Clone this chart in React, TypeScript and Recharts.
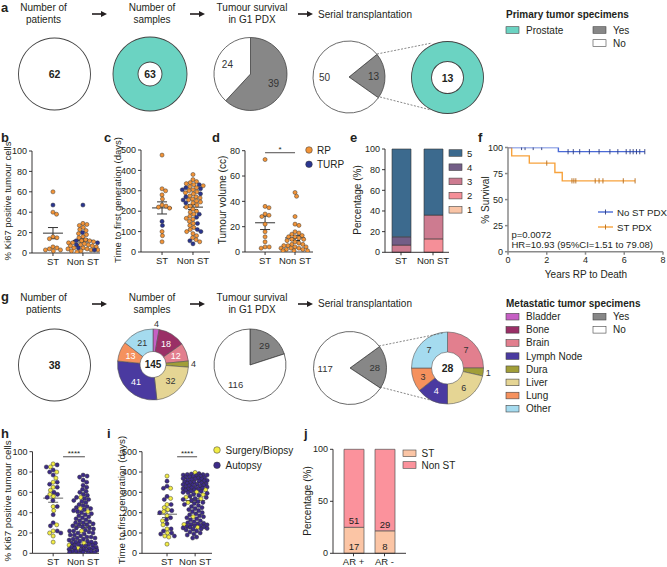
import React from 'react'
import {
  ScatterChart,
  Scatter,
  XAxis,
  YAxis,
  ReferenceLine,
  BarChart,
  Bar,
  LabelList,
  PieChart,
  Pie,
  Cell,
  ComposedChart,
  Line,
} from 'recharts'

const FONT = '"Liberation Sans", Arial, Helvetica, sans-serif'
const INK = '#231f20'
const TEAL = '#6bd3c2'
const GREY = '#878787'
const ORANGE = '#f29438'
const NAVY = '#2a3590'
const YELLOW = '#f2ec45'
const PURPLE = '#3d2b88'
const KM_BLUE = '#4a6ad6'
const KM_ORANGE = '#f7a23c'

// ---- a: primary tumour specimens
const primaryPatients = 62
const primarySamples = 63
const primaryG1 = [39, 24] // yes, no
const primarySerial = [13, 50] // yes, no

// ---- g: metastatic tumour specimens
const metPatients = 38
const sampleSites = ['Bladder', 'Bone', 'Brain', 'Dura', 'Liver', 'Lymph Node', 'Lung', 'Other']
const sampleCounts = [4, 18, 12, 4, 32, 41, 13, 21]
const metG1 = [29, 116]
const metSerial = [28, 117]
const serialSites = ['Brain', 'Dura', 'Liver', 'Lymph Node', 'Lung', 'Other']
const serialCounts = [7, 1, 6, 4, 3, 7]
const legendSites = ['Bladder', 'Bone', 'Brain', 'Lymph Node', 'Dura', 'Liver', 'Lung', 'Other']
const siteColors: Record<string, string> = {
  Bladder: '#c65fc4',
  Bone: '#9a2f66',
  Brain: '#e27f8e',
  'Lymph Node': '#4a3aa0',
  Dura: '#a19e38',
  Liver: '#e5d594',
  Lung: '#f5915d',
  Other: '#a5dbef',
}

const stLabels = ['ST', 'Non ST']

// ---- b: Ki67 (primary)
const kiStRP = [60, 40, 38, 16, 15, 14, 6, 5, 4, 3, 3, 2]
const kiStTURP = [47]
const kiNonRP = [29, 28, 27, 25, 23, 22, 19, 18, 16, 15, 13, 12, 12, 11, 10, 10, 9, 8, 8, 7, 7, 6, 5, 5, 4, 4, 3, 3, 2, 2, 1]
const kiNonTURP = [47, 20, 12, 10, 8, 5, 3]

// ---- c: time to first generation (primary)
const tfgStRP = [475, 310, 300, 280, 260, 230, 225, 220, 215, 100, 80, 50]
const tfgStTURP = [150, 130]
const tfgNonRP = [380, 355, 345, 340, 335, 330, 325, 320, 315, 305, 300, 295, 290, 285, 275, 270, 265, 260, 255, 250, 245, 240, 230, 225, 220, 210, 200, 195, 185, 175, 165, 160, 150, 140, 130, 120, 110, 100, 90, 80, 70, 60, 50]
const tfgNonTURP = [330, 315, 310, 305, 285, 270, 255, 240, 185, 170, 140, 110, 100, 55, 40]

// ---- d: tumour volume
const volStRP = [73, 36, 35, 30, 29, 28, 22, 16, 12, 8, 4, 4, 3]
const volNonRP = [47, 44, 28, 22, 21, 16, 15, 14, 13, 12, 12, 11, 10, 10, 9, 8, 7, 6, 6, 5, 5, 4, 4, 3, 3, 3, 2, 2, 1, 1, 1]

// ---- e: grade group
const gradeLegend = ['5', '4', '3', '2', '1']
const gradeColors = ['#f9c4a6', '#f58f98', '#cd7b90', '#735e87', '#3c6a8e'] // 1..5
const grade1 = [0, 0]
const grade2 = [0, 13]
const grade3 = [7, 23]
const grade4 = [8, 0]
const grade5 = [85, 64]

// ---- f: survival
const noStTimes = [0, 2.6, 7.06]
const noStSurv = [100, 96, 96]
const noStCensored = [0.7, 0.88, 1.3, 1.74, 3.1, 3.37, 3.7, 4.2, 4.7, 5.26, 5.67, 6.1, 6.3, 6.46, 6.63, 6.8, 7.06]
const stTimes = [0, 0.19, 1.1, 2.42, 2.8, 6.56]
const stSurv = [100, 92, 85, 76, 68, 68]
const stCensored = [2.0, 3.3, 3.4, 3.5, 4.5, 4.7, 4.9, 5.95, 6.56]

// ---- h: Ki67 (metastatic)
const hStSurgery = [88, 85, 80, 74, 70, 65, 62, 58, 56, 46, 42, 28, 22, 20, 17, 11]
const hStAutopsy = [87, 85, 82, 80, 77, 70, 68, 65, 60, 58, 55, 52, 46, 38, 30, 27, 22, 20]
const hNonSurgery = [55, 44, 41, 22, 10, 8, 5]
const hNonAutopsy = [77, 76, 75, 72, 70, 67, 65, 63, 61, 60, 58, 57, 55, 54, 53, 52, 51, 50, 48, 47, 46, 45, 44, 43, 42, 41, 40, 39, 38, 37, 36, 35, 34, 33, 32, 31, 30, 30, 29, 28, 28, 27, 26, 25, 25, 24, 23, 22, 22, 21, 20, 20, 19, 18, 18, 17, 16, 16, 15, 15, 14, 14, 13, 12, 12, 11, 11, 10, 10, 9, 9, 8, 8, 7, 7, 6, 6, 5, 5, 5, 4, 4, 3, 3, 3, 2, 2, 2, 1, 1, 1, 0, 0]

// ---- i: time to first generation (metastatic)
const iStSurgery = [380, 320, 270, 240, 225, 215, 205, 185, 160, 140, 120, 100, 85, 80, 45]
const iStAutopsy = [355, 330, 320, 280, 265, 240, 210, 200, 175, 165, 145, 120, 110, 100, 95, 85]
const iNonSurgery = [398, 312, 302, 288, 276, 268, 250, 180, 142, 128]
const iNonAutopsy = [392, 390, 388, 387, 385, 385, 382, 380, 378, 376, 375, 372, 370, 368, 366, 365, 362, 360, 358, 356, 355, 352, 350, 348, 346, 345, 342, 340, 338, 336, 335, 332, 330, 328, 326, 325, 322, 320, 318, 316, 315, 312, 310, 306, 305, 300, 298, 295, 290, 285, 280, 275, 270, 265, 260, 255, 250, 245, 240, 235, 230, 225, 220, 215, 210, 205, 200, 195, 190, 185, 180, 175, 170, 165, 160, 155, 150, 148, 145, 142, 140, 138, 135, 132, 130, 128, 125, 122, 120, 118, 115, 110, 105, 100, 95, 90, 80, 75]

// ---- j: AR status
const arGroups = ['AR +', 'AR -']
const arSt = [17, 8]
const arNonSt = [51, 29]

type Group = { vals: number[]; fill: string }
type Rect = [number, number, number, number]

const tickStyle = { fill: INK, fontSize: 9, fontFamily: FONT }
const axisStyle = { stroke: INK, strokeWidth: 0.9 }

function frame(box: Rect, plot: Rect, xH: number) {
  const [l, t, w, h] = box
  const [x0, y0, x1, y1] = plot
  return {
    margin: { top: y0 - t, right: l + w - x1, bottom: t + h - y1 - xH, left: 0 },
    yW: x0 - l,
  }
}

// beeswarm kept inside a fixed half-width; dense spots overlap a little
function swarm(groups: Group[], pos: number, kx: number, ky: number, d: number, maxHalf: number) {
  const pts = groups.flatMap((g) => g.vals.map((v) => ({ v, fill: g.fill })))
  pts.sort((a, b) => b.v - a.v)
  const placed: { px: number; py: number }[] = []
  return pts.map((p) => {
    const py = p.v * ky
    const near = placed.filter((q) => Math.abs(q.py - py) < d)
    const cands = [0]
    for (const q of near) {
      const dx = Math.sqrt(d * d - (q.py - py) ** 2)
      cands.push(q.px + dx, q.px - dx)
    }
    const ok = cands.filter((c) => Math.abs(c) <= maxHalf).sort((a, b) => Math.abs(a) - Math.abs(b))
    let px = ok.find((c) => near.every((q) => (q.px - c) ** 2 + (q.py - py) ** 2 >= d * d - 0.01))
    if (px === undefined) {
      let best = 0
      let bestD = -1
      for (let c = -maxHalf; c <= maxHalf; c += 0.5) {
        const md = Math.min(...near.map((q) => (q.px - c) ** 2 + (q.py - py) ** 2))
        if (md > bestD) {
          bestD = md
          best = c
        }
      }
      px = best
    }
    placed.push({ px, py })
    return { x: pos + px / kx, y: p.v, fill: p.fill }
  })
}

const dotShape = (p: any) => (
  <circle cx={p.cx} cy={p.cy} r={2.05} fill={p.payload.fill} stroke="#2a2a2a" strokeWidth={0.45} />
)

function DotPlot({
  box,
  plot,
  yMax,
  yTicks,
  xDomain,
  cols,
  xH,
  sig,
  halfWidth = [10, 13],
  meanColor = '#333',
}: {
  box: Rect
  plot: Rect
  yMax: number
  yTicks: number[]
  xDomain: [number, number]
  cols: Group[][]
  xH: number
  sig?: { x: [number, number]; y: number; text: string }
  halfWidth?: number[]
  meanColor?: string
}) {
  const { margin, yW } = frame(box, plot, xH)
  const kx = (plot[2] - plot[0]) / (xDomain[1] - xDomain[0])
  const ky = (plot[3] - plot[1]) / yMax
  const dots = cols.flatMap((g, i) => swarm(g, i + 1, kx, ky, 4.1, halfWidth[i]))
  const stats = cols.map((g) => {
    const v = g.flatMap((s) => s.vals)
    const m = v.reduce((a, b) => a + b, 0) / v.length
    const sd = Math.sqrt(v.reduce((a, b) => a + (b - m) ** 2, 0) / (v.length - 1))
    return { m, se: sd / Math.sqrt(v.length) }
  })
  const half = 10 / kx
  const cap = 5 / kx
  return (
    <div style={{ position: 'absolute', left: box[0], top: box[1] }}>
      <ScatterChart width={box[2]} height={box[3]} margin={margin}>
        <XAxis
          type="number"
          dataKey="x"
          domain={xDomain}
          ticks={[1, 2]}
          interval={0}
          allowDataOverflow
          tickFormatter={(v: number) => stLabels[Math.round(v) - 1]}
          height={xH}
          tick={{ ...tickStyle, fontSize: 9.5 }}
          tickSize={3}
          axisLine={axisStyle}
          tickLine={axisStyle}
        />
        <YAxis
          type="number"
          dataKey="y"
          domain={[0, yMax]}
          ticks={yTicks}
          interval={0}
          allowDataOverflow
          width={yW}
          tick={tickStyle}
          tickSize={3}
          axisLine={axisStyle}
          tickLine={axisStyle}
        />
        <Scatter data={dots} isAnimationActive={false} shape={dotShape} />
        {stats.flatMap((s, i) => [
          <ReferenceLine
            key={'m' + i}
            segment={[{ x: i + 1 - half, y: s.m }, { x: i + 1 + half, y: s.m }]}
            stroke={meanColor}
            strokeWidth={1}
          />,
          <ReferenceLine
            key={'e' + i}
            segment={[{ x: i + 1, y: s.m - s.se }, { x: i + 1, y: s.m + s.se }]}
            stroke={meanColor}
            strokeWidth={1}
          />,
          <ReferenceLine
            key={'t' + i}
            segment={[{ x: i + 1 - cap, y: s.m + s.se }, { x: i + 1 + cap, y: s.m + s.se }]}
            stroke={meanColor}
            strokeWidth={1}
          />,
          <ReferenceLine
            key={'b' + i}
            segment={[{ x: i + 1 - cap, y: s.m - s.se }, { x: i + 1 + cap, y: s.m - s.se }]}
            stroke={meanColor}
            strokeWidth={1}
          />,
        ])}
        {sig && (
          <ReferenceLine
            segment={[{ x: sig.x[0], y: sig.y }, { x: sig.x[1], y: sig.y }]}
            stroke={INK}
            strokeWidth={0.8}
            label={{ value: sig.text, position: 'top', fontSize: 8, fill: INK, offset: 1 }}
          />
        )}
      </ScatterChart>
    </div>
  )
}

// pie helpers
const solid = (key: string, cx: number, cy: number, inner: number, outer: number, fill: string) => (
  <Pie
    key={key}
    data={[{ v: 1 }]}
    dataKey="v"
    cx={cx}
    cy={cy}
    innerRadius={inner}
    outerRadius={outer}
    startAngle={90}
    endAngle={-270}
    fill={fill}
    stroke="none"
    isAnimationActive={false}
  />
)
const ring = (key: string, cx: number, cy: number, r: number) =>
  solid(key, cx, cy, r - 0.45, r + 0.45, '#444')

const yesNo = (arr: number[]) => [
  { name: 'Yes', v: arr[0] },
  { name: 'No', v: arr[1] },
]
const sites = (names: string[], counts: number[]) => names.map((name, i) => ({ name, v: counts[i] }))

function pieLabel(light: string[], outsideMax: number, size: number) {
  return (p: any) => {
    const RAD = Math.PI / 180
    const name = p.payload?.name ?? p.name
    const outside = p.value <= outsideMax
    const r = outside
      ? p.outerRadius + 5
      : p.innerRadius > 0
        ? (p.innerRadius + p.outerRadius) / 2
        : p.outerRadius * 0.68
    const x = p.cx + r * Math.cos(-p.midAngle * RAD)
    const y = p.cy + r * Math.sin(-p.midAngle * RAD)
    return (
      <text
        x={x}
        y={y}
        textAnchor="middle"
        dominantBaseline="central"
        fontSize={size}
        fontFamily={FONT}
        fill={light.includes(name) && !outside ? '#fff' : '#333'}
      >
        {p.value}
      </text>
    )
  }
}

function PieRows() {
  const yn = [GREY, '#fff']
  return (
    <>
      <div style={{ position: 'absolute', left: 0, top: 30 }}>
        <PieChart width={500} height={95} margin={{ top: 0, right: 0, bottom: 0, left: 0 }}>
          {solid('a1', 54.5, 44, 0, 36, '#fff')}
          {ring('a1o', 54.5, 44, 36)}
          {solid('a2', 150, 44, 12, 37, TEAL)}
          {ring('a2o', 150, 44, 37)}
          {ring('a2i', 150, 44, 12)}
          <Pie
            data={yesNo(primaryG1)}
            dataKey="v"
            nameKey="name"
            cx={250.5}
            cy={44}
            outerRadius={36.5}
            startAngle={90}
            endAngle={-270}
            stroke="#444"
            strokeWidth={0.8}
            label={pieLabel([], 0, 10)}
            labelLine={false}
            isAnimationActive={false}
          >
            {yn.map((c, i) => (
              <Cell key={i} fill={c} />
            ))}
          </Pie>
          <Pie
            data={yesNo(primarySerial)}
            dataKey="v"
            nameKey="name"
            cx={349}
            cy={47}
            outerRadius={36}
            startAngle={39}
            endAngle={-321}
            stroke="#444"
            strokeWidth={0.8}
            label={pieLabel([], 0, 10)}
            labelLine={false}
            isAnimationActive={false}
          >
            {yn.map((c, i) => (
              <Cell key={i} fill={c} />
            ))}
          </Pie>
          {solid('a5', 447.5, 47.5, 16, 36, TEAL)}
          {ring('a5o', 447.5, 47.5, 36)}
          {ring('a5i', 447.5, 47.5, 16)}
        </PieChart>
      </div>
      <div style={{ position: 'absolute', left: 0, top: 312 }}>
        <PieChart width={500} height={100} margin={{ top: 0, right: 0, bottom: 0, left: 0 }}>
          {solid('g1', 54.5, 53, 0, 36, '#fff')}
          {ring('g1o', 54.5, 53, 36)}
          <Pie
            data={sites(sampleSites, sampleCounts)}
            dataKey="v"
            nameKey="name"
            cx={153}
            cy={52.5}
            innerRadius={13}
            outerRadius={35.5}
            startAngle={90}
            endAngle={-270}
            stroke="#555"
            strokeWidth={0.6}
            label={pieLabel(['Bone', 'Brain', 'Lymph Node', 'Lung'], 4, 9)}
            labelLine={false}
            isAnimationActive={false}
          >
            {sampleSites.map((s) => (
              <Cell key={s} fill={siteColors[s]} />
            ))}
          </Pie>
          <Pie
            data={yesNo(metG1)}
            dataKey="v"
            nameKey="name"
            cx={250}
            cy={53}
            outerRadius={36}
            startAngle={90}
            endAngle={-270}
            stroke="#444"
            strokeWidth={0.8}
            label={pieLabel([], 0, 9.5)}
            labelLine={false}
            isAnimationActive={false}
          >
            {yn.map((c, i) => (
              <Cell key={i} fill={c} />
            ))}
          </Pie>
          <Pie
            data={yesNo(metSerial)}
            dataKey="v"
            nameKey="name"
            cx={350}
            cy={56}
            outerRadius={36.5}
            startAngle={36}
            endAngle={-324}
            stroke="#444"
            strokeWidth={0.8}
            label={pieLabel([], 0, 9.5)}
            labelLine={false}
            isAnimationActive={false}
          >
            {yn.map((c, i) => (
              <Cell key={i} fill={c} />
            ))}
          </Pie>
          <Pie
            data={sites(serialSites, serialCounts)}
            dataKey="v"
            nameKey="name"
            cx={447.5}
            cy={56}
            innerRadius={16}
            outerRadius={36}
            startAngle={90}
            endAngle={-270}
            stroke="#555"
            strokeWidth={0.6}
            label={pieLabel(['Lymph Node'], 1, 9)}
            labelLine={false}
            isAnimationActive={false}
          >
            {serialSites.map((s) => (
              <Cell key={s} fill={siteColors[s]} />
            ))}
          </Pie>
        </PieChart>
      </div>
    </>
  )
}

function GradeBars() {
  const box: Rect = [340, 138, 115, 140]
  const { margin, yW } = frame(box, [385, 149, 449, 252.3], 16)
  const data = stLabels.map((name, i) => ({
    name,
    g1: grade1[i],
    g2: grade2[i],
    g3: grade3[i],
    g4: grade4[i],
    g5: grade5[i],
  }))
  return (
    <div style={{ position: 'absolute', left: box[0], top: box[1] }}>
      <BarChart width={box[2]} height={box[3]} data={data} margin={margin} barSize={19}>
        <XAxis dataKey="name" height={16} tick={{ ...tickStyle, fontSize: 9.5 }} tickSize={3} axisLine={axisStyle} tickLine={axisStyle} interval={0} />
        <YAxis domain={[0, 100]} ticks={[0, 20, 40, 60, 80, 100]} interval={0} width={yW} tick={tickStyle} tickSize={3} axisLine={axisStyle} tickLine={axisStyle} />
        {['g1', 'g2', 'g3', 'g4', 'g5'].map((k, i) => (
          <Bar key={k} dataKey={k} stackId="s" fill={gradeColors[i]} stroke="#333" strokeWidth={0.6} isAnimationActive={false} />
        ))}
      </BarChart>
    </div>
  )
}

function levelAt(times: number[], surv: number[], t: number) {
  let s = surv[0]
  times.forEach((tt, i) => {
    if (tt <= t) s = surv[i]
  })
  return s
}

const censorShape = (color: string) => (p: any) => (
  <line x1={p.cx} x2={p.cx} y1={p.cy - 2.6} y2={p.cy + 2.6} stroke={color} strokeWidth={0.9} />
)

function Survival() {
  const box: Rect = [470, 138, 197, 140]
  const { margin, yW } = frame(box, [508, 147.5, 663, 251.7], 16)
  const gAxis = { stroke: '#8a8a8a', strokeWidth: 1.5 }
  const noSt = noStTimes.map((t, i) => ({ t, s: noStSurv[i] }))
  const st = stTimes.map((t, i) => ({ t, s: stSurv[i] }))
  const noStTicks = noStCensored.map((t) => ({ t, s: levelAt(noStTimes, noStSurv, t) }))
  const stTicks = stCensored.map((t) => ({ t, s: levelAt(stTimes, stSurv, t) }))
  return (
    <div style={{ position: 'absolute', left: box[0], top: box[1] }}>
      <ComposedChart width={box[2]} height={box[3]} margin={margin}>
        <XAxis type="number" dataKey="t" domain={[0, 8]} ticks={[0, 2, 4, 6, 8]} interval={0} allowDataOverflow height={16} tick={tickStyle} tickSize={3} axisLine={gAxis} tickLine={gAxis} />
        <YAxis type="number" dataKey="s" domain={[0, 100]} ticks={[0, 25, 50, 75, 100]} interval={0} allowDataOverflow width={yW} tick={tickStyle} tickSize={3} axisLine={gAxis} tickLine={gAxis} />
        <Line data={st} dataKey="s" type="stepAfter" stroke={KM_ORANGE} strokeWidth={1.4} dot={false} isAnimationActive={false} />
        <Line data={noSt} dataKey="s" type="stepAfter" stroke={KM_BLUE} strokeWidth={1.4} dot={false} isAnimationActive={false} />
        <Scatter data={stTicks} dataKey="s" shape={censorShape('#b36a1a')} isAnimationActive={false} />
        <Scatter data={noStTicks} dataKey="s" shape={censorShape('#2b3a7a')} isAnimationActive={false} />
      </ComposedChart>
    </div>
  )
}

function ArBars() {
  const box: Rect = [300, 430, 120, 138]
  const { margin, yW } = frame(box, [333, 449.3, 406, 553.3], 14)
  const data = arGroups.map((name, i) => {
    const n = arSt[i] + arNonSt[i]
    return { name, st: (arSt[i] / n) * 100, nonSt: (arNonSt[i] / n) * 100, stN: arSt[i], nonStN: arNonSt[i] }
  })
  const lbl = { fontSize: 9.5, fill: INK, fontFamily: FONT }
  return (
    <div style={{ position: 'absolute', left: box[0], top: box[1] }}>
      <BarChart width={box[2]} height={box[3]} data={data} margin={margin} barSize={20}>
        <XAxis dataKey="name" height={14} padding={{ left: 5, right: 6 }} tick={{ ...tickStyle, fontSize: 9.5 }} tickSize={3} axisLine={axisStyle} tickLine={axisStyle} interval={0} />
        <YAxis domain={[0, 100]} ticks={[0, 50, 100]} interval={0} width={yW} tick={tickStyle} tickSize={3} axisLine={axisStyle} tickLine={axisStyle} />
        <Bar dataKey="st" stackId="a" fill="#fbc5a5" stroke="#555" strokeWidth={0.7} isAnimationActive={false}>
          <LabelList dataKey="stN" position="insideBottom" offset={3} style={lbl} />
        </Bar>
        <Bar dataKey="nonSt" stackId="a" fill="#fb929c" stroke="#555" strokeWidth={0.7} isAnimationActive={false}>
          <LabelList dataKey="nonStN" position="insideBottom" offset={3} style={lbl} />
        </Bar>
      </BarChart>
    </div>
  )
}

function Overlay() {
  const txt = (x: number, y: number, s: string | number, extra: any = {}) => (
    <text x={x} y={y} fontSize={10} fill={INK} fontFamily={FONT} {...extra}>
      {s}
    </text>
  )
  const vLabel = (x: number, y: number, s: string, size = 10) => (
    <text transform={`translate(${x},${y}) rotate(-90)`} textAnchor="middle" dy="0.35em" fontSize={size} fill={INK} fontFamily={FONT}>
      {s}
    </text>
  )
  const arrow = (x: number, y: number) => (
    <g key={`${x}-${y}`}>
      <line x1={x} y1={y} x2={x + 10} y2={y} stroke={INK} strokeWidth={1.6} />
      <polygon points={`${x + 9},${y - 3} ${x + 15},${y} ${x + 9},${y + 3}`} fill={INK} />
    </g>
  )
  const swatch = (x: number, cy: number, fill: string) => (
    <rect x={x} y={cy - 3.3} width={13} height={6.6} fill={fill} stroke="#444" strokeWidth={0.6} />
  )
  const heads = [
    { x: 43.5, a: 'Number of', b: 'patients' },
    { x: 152, a: 'Number of', b: 'samples' },
    { x: 252, a: 'Tumour survival', b: 'in G1 PDX' },
  ]
  const flowHeader = (y1: number, y2: number, ya: number, ys: number) => (
    <g>
      {heads.map((h) => (
        <g key={h.x}>
          {txt(h.x, y1, h.a, { textAnchor: 'middle' })}
          {txt(h.x, y2, h.b, { textAnchor: 'middle' })}
        </g>
      ))}
      {[92, 190, 298].map((x) => arrow(x, ya))}
      {txt(318, ys, 'Serial transplantation')}
    </g>
  )
  const letter = (x: number, y: number, s: string) => txt(x, y, s, { fontSize: 13, fontWeight: 700 })
  const bold = { textAnchor: 'middle', dominantBaseline: 'central', fontWeight: 700, fontSize: 10.5 }
  const dash = { stroke: '#555', strokeWidth: 0.7, strokeDasharray: '2 1.5' }
  const sum = (a: number[]) => a.reduce((x, y) => x + y, 0)
  return (
    <svg width={667} height={567} style={{ position: 'absolute', left: 0, top: 0, pointerEvents: 'none' }}>
      {letter(1, 11.5, 'a')}
      {letter(1, 142, 'b')}
      {letter(104, 142, 'c')}
      {letter(212, 142, 'd')}
      {letter(350, 142, 'e')}
      {letter(478, 142, 'f')}
      {letter(1, 301, 'g')}
      {letter(1, 438, 'h')}
      {letter(107, 438, 'i')}
      {letter(304, 438, 'j')}

      {flowHeader(11, 23, 14, 17.5)}
      {flowHeader(301, 313, 304, 307)}

      {/* centre numbers */}
      {txt(54.5, 74, primaryPatients, bold)}
      {txt(150, 74, primarySamples, bold)}
      {txt(447.5, 77.5, primarySerial[0], bold)}
      {txt(54.5, 365, metPatients, bold)}
      {txt(153, 364.5, sum(sampleCounts), { ...bold, fontSize: 10 })}
      {txt(447.5, 368, sum(serialCounts), bold)}

      {/* zoom connectors */}
      <line x1={377} y1={54} x2={432} y2={43} {...dash} />
      <line x1={380} y1={97} x2={431} y2={110} {...dash} />
      <line x1={379} y1={346} x2={443} y2={333} {...dash} />
      <line x1={380} y1={387} x2={430} y2={400} {...dash} />

      {/* legend a */}
      {txt(506, 17.5, 'Primary tumor specimens', { fontWeight: 700 })}
      {swatch(506, 30, TEAL)}
      {txt(526, 33.5, 'Prostate')}
      {swatch(593, 30, GREY)}
      {txt(613, 33.5, 'Yes')}
      {swatch(593, 43, '#fff')}
      {txt(613, 46.5, 'No')}

      {/* legend g */}
      {txt(506, 306.5, 'Metastatic tumor specimens', { fontWeight: 700 })}
      {legendSites.map((s, i) => (
        <g key={s}>
          {swatch(506, 316.7 + i * 13.14, siteColors[s])}
          {txt(526, 320.2 + i * 13.14, s)}
        </g>
      ))}
      {swatch(593, 316.7, GREY)}
      {txt(613, 320.2, 'Yes')}
      {swatch(593, 329.8, '#fff')}
      {txt(613, 333.3, 'No')}

      {/* axis titles */}
      {vLabel(8, 201, '% Ki67 positive tumour cells', 9.5)}
      {vLabel(117.5, 200, 'Time to first generation (days)', 9.5)}
      {vLabel(222, 200, 'Tumour volume (cc)')}
      {vLabel(357, 200, 'Percentage (%)')}
      {vLabel(485, 200, '% Survival')}
      {vLabel(7.5, 501, '% Ki67 positive tumour cells', 9.7)}
      {vLabel(121.5, 500, 'Time to first generation (days)', 9.7)}
      {vLabel(307, 501, 'Percentage (%)')}
      {txt(586, 278, 'Years RP to Death', { textAnchor: 'middle' })}

      {/* d legend */}
      <circle cx={309} cy={150} r={3.3} fill={ORANGE} stroke="#333" strokeWidth={0.5} />
      {txt(317, 153.5, 'RP')}
      <circle cx={309} cy={164.3} r={3.3} fill={NAVY} stroke="#333" strokeWidth={0.5} />
      {txt(317, 167.8, 'TURP')}

      {/* e legend */}
      {gradeLegend.map((g, i) => (
        <g key={g}>
          {swatch(449, 153 + i * 14.2, gradeColors[4 - i])}
          {txt(467, 156.5 + i * 14.2, g, { fontSize: 9.5 })}
        </g>
      ))}

      {/* f annotations */}
      {txt(511.5, 237.5, 'p=0.0072', { fontSize: 9.5 })}
      {txt(511.5, 248, 'HR=10.93 (95%CI=1.51 to 79.08)', { fontSize: 9.5 })}
      <line x1={598} y1={212} x2={613} y2={212} stroke={KM_BLUE} strokeWidth={1.4} />
      <line x1={605.5} y1={209.5} x2={605.5} y2={214.5} stroke="#2b3a7a" strokeWidth={0.9} />
      {txt(617, 215.5, 'No ST PDX', { fontSize: 9.7 })}
      <line x1={598} y1={227} x2={613} y2={227} stroke={KM_ORANGE} strokeWidth={1.4} />
      <line x1={605.5} y1={224.5} x2={605.5} y2={229.5} stroke="#b36a1a" strokeWidth={0.9} />
      {txt(617, 230.5, 'ST PDX', { fontSize: 9.7 })}

      {/* i legend */}
      <circle cx={217} cy={450} r={3.3} fill={YELLOW} stroke="#333" strokeWidth={0.5} />
      {txt(225.5, 453.5, 'Surgery/Biopsy')}
      <circle cx={217} cy={465.3} r={3.3} fill={PURPLE} stroke="#333" strokeWidth={0.5} />
      {txt(225.5, 468.8, 'Autopsy')}

      {/* j legend */}
      {swatch(403, 453.3, '#fbc5a5')}
      {txt(421.5, 456.8, 'ST')}
      {swatch(403, 465, '#fb929c')}
      {txt(421.5, 468.5, 'Non ST')}
    </svg>
  )
}

export default function App() {
  return (
    <div style={{ position: 'relative', width: 667, height: 567, overflow: 'hidden', background: '#fff', fontFamily: FONT }}>
      <style>{'body{margin:0}'}</style>
      <PieRows />
      <DotPlot
        box={[0, 138, 105, 140]}
        plot={[32, 151, 100, 253]}
        yMax={100}
        yTicks={[0, 20, 40, 60, 80, 100]}
        xDomain={[0.3, 2.57]}
        xH={16}
        halfWidth={[9, 15]}
        cols={[
          [{ vals: kiStRP, fill: ORANGE }, { vals: kiStTURP, fill: NAVY }],
          [{ vals: kiNonRP, fill: ORANGE }, { vals: kiNonTURP, fill: NAVY }],
        ]}
      />
      <DotPlot
        box={[105, 138, 110, 140]}
        plot={[141, 150, 210, 252]}
        yMax={500}
        yTicks={[0, 100, 200, 300, 400, 500]}
        xDomain={[0.32, 2.55]}
        xH={16}
        halfWidth={[10, 13]}
        cols={[
          [{ vals: tfgStRP, fill: ORANGE }, { vals: tfgStTURP, fill: NAVY }],
          [{ vals: tfgNonRP, fill: ORANGE }, { vals: tfgNonTURP, fill: NAVY }],
        ]}
      />
      <DotPlot
        box={[210, 138, 105, 140]}
        plot={[245, 150.7, 313, 252]}
        yMax={80}
        yTicks={[0, 20, 40, 60, 80]}
        xDomain={[0.33, 2.6]}
        xH={16}
        halfWidth={[8, 14]}
        cols={[[{ vals: volStRP, fill: ORANGE }], [{ vals: volNonRP, fill: ORANGE }]]}
        sig={{ x: [1, 2], y: 78.4, text: '*' }}
      />
      <GradeBars />
      <Survival />
      <DotPlot
        box={[0, 430, 104, 138]}
        plot={[32.5, 451.7, 99, 553.3]}
        yMax={100}
        yTicks={[0, 20, 40, 60, 80, 100]}
        xDomain={[0.31, 2.53]}
        xH={14}
        halfWidth={[11, 14]}
        meanColor="#666"
        cols={[
          [{ vals: hStSurgery, fill: YELLOW }, { vals: hStAutopsy, fill: PURPLE }],
          [{ vals: hNonSurgery, fill: YELLOW }, { vals: hNonAutopsy, fill: PURPLE }],
        ]}
        sig={{ x: [1.33, 2.06], y: 95, text: '****' }}
      />
      <DotPlot
        box={[104, 430, 114, 138]}
        plot={[142, 451.7, 212, 553.3]}
        yMax={500}
        yTicks={[0, 100, 200, 300, 400, 500]}
        xDomain={[0.11, 2.6]}
        xH={14}
        halfWidth={[12, 12]}
        meanColor="#666"
        cols={[
          [{ vals: iStSurgery, fill: YELLOW }, { vals: iStAutopsy, fill: PURPLE }],
          [{ vals: iNonSurgery, fill: YELLOW }, { vals: iNonAutopsy, fill: PURPLE }],
        ]}
        sig={{ x: [1.36, 2.07], y: 475, text: '****' }}
      />
      <ArBars />
      <Overlay />
    </div>
  )
}
